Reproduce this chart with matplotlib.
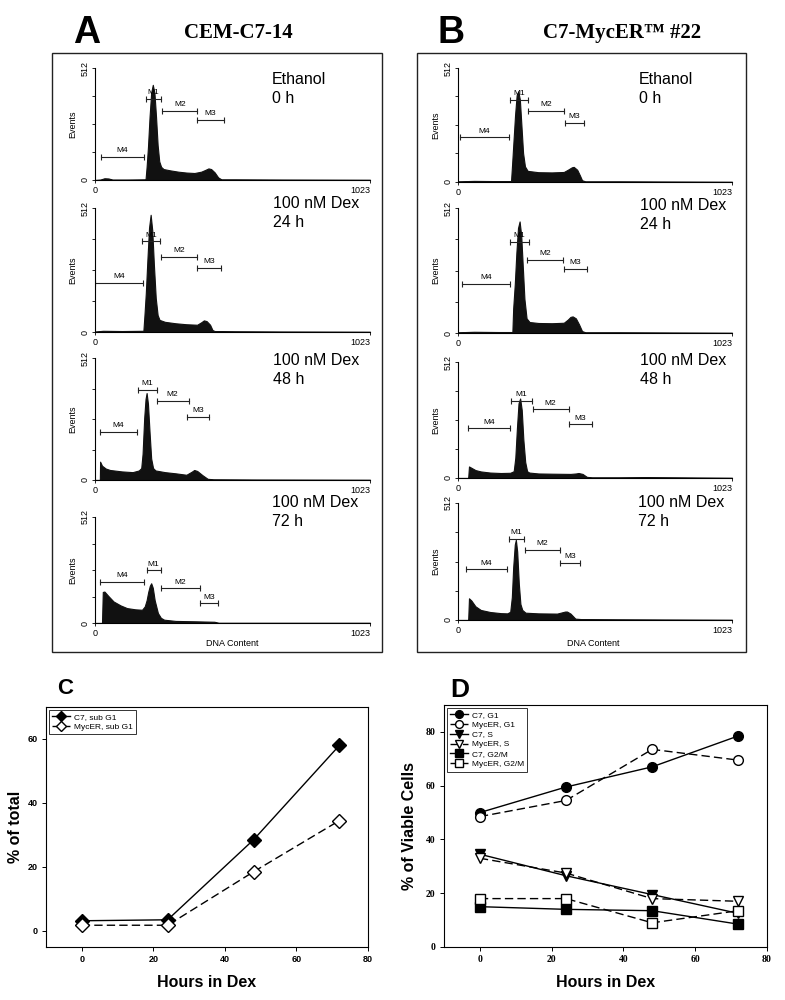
import numpy as np
import matplotlib
matplotlib.use("Agg")
import matplotlib.pyplot as plt
from matplotlib.patches import Rectangle

plt.rcParams["font.family"] = ["Liberation Sans", "DejaVu Sans"]

W, H = 785, 1000

# ---- flow histograms (channel, events) ----
ch_A0 = [0, 20, 35, 50, 65, 120, 188, 192, 197, 203, 209, 215, 221, 227, 233, 239, 246, 255, 280, 310,
         340, 370, 395, 410, 422, 432, 445, 458, 470, 520, 700, 1023]
ev_A0 = [0, 2, 8, 7, 2, 2, 3, 60, 150, 290, 400, 435, 400, 290, 160, 85, 60, 50, 44, 38,
         34, 32, 38, 46, 53, 50, 35, 12, 3, 3, 2, 1]
ch_A24 = [0, 30, 100, 180, 184, 189, 195, 201, 207, 213, 219, 226, 233, 240, 260, 300, 340, 380, 395,
          405, 415, 428, 437, 445, 520, 700, 1023]
ev_A24 = [2, 5, 4, 5, 70, 160, 300, 430, 484, 420, 280, 140, 70, 50, 42, 36, 32, 30, 40,
          48, 45, 30, 8, 4, 3, 2, 1]
ch_A48 = [0, 18, 19, 26, 40, 56, 100, 140, 163, 172, 177, 183, 188, 192, 197, 203, 209, 216, 225, 260,
          300, 340, 360, 369, 380, 400, 419, 440, 600, 1023]
ev_A48 = [0, 0, 77, 60, 48, 42, 36, 33, 40, 50, 110, 260, 340, 365, 320, 200, 90, 50, 40, 33,
          28, 22, 35, 42, 38, 20, 5, 3, 2, 1]
ch_A72 = [0, 26, 29, 35, 50, 69, 95, 119, 150, 175, 185, 192, 198, 204, 209, 215, 222, 234, 245, 257,
          300, 380, 444, 460, 1023]
ev_A72 = [0, 0, 150, 152, 130, 104, 85, 72, 66, 64, 80, 110, 150, 180, 192, 170, 110, 48, 25, 16,
          10, 8, 6, 1, 1]
ch_B0 = [0, 60, 150, 198, 202, 207, 213, 219, 225, 231, 237, 243, 250, 260, 300, 350, 395, 410, 425,
         432, 445, 455, 463, 475, 600, 1023]
ev_B0 = [3, 5, 4, 4, 80, 180, 300, 390, 407, 370, 250, 130, 70, 50, 44, 43, 45, 55, 66,
         68, 55, 30, 8, 3, 3, 1]
ch_B24 = [0, 60, 150, 203, 206, 212, 218, 224, 230, 236, 242, 248, 256, 267, 300, 350, 395, 410, 420,
          428, 440, 452, 463, 475, 600, 1023]
ev_B24 = [3, 5, 4, 4, 100, 200, 330, 430, 457, 400, 270, 140, 60, 45, 41, 40, 42, 55, 66,
          68, 60, 35, 8, 3, 3, 1]
ch_B48 = [0, 38, 41, 50, 65, 85, 120, 160, 195, 208, 214, 220, 226, 232, 238, 244, 251, 258, 266, 300,
          350, 420, 440, 450, 465, 481, 500, 600, 700, 1023]
ev_B48 = [0, 0, 51, 45, 35, 29, 24, 22, 23, 30, 90, 220, 330, 351, 300, 170, 70, 30, 24, 20,
          19, 18, 20, 22, 18, 5, 3, 3, 4, 1]
ch_B72 = [0, 38, 41, 50, 65, 85, 120, 160, 184, 195, 201, 206, 212, 216, 221, 227, 233, 240, 252, 300,
          370, 390, 400, 407, 420, 438, 460, 600, 1023]
ev_B72 = [0, 0, 95, 85, 60, 44, 35, 30, 29, 36, 100, 230, 330, 351, 300, 160, 70, 44, 32, 29,
          28, 34, 37, 37, 28, 6, 4, 3, 1]

# gate markers: (start, end, height) for M1..M4
gates_A0 = [(188, 244, 371), (250, 381, 317), (381, 479, 275), (21, 184, 107)]
gates_A24 = [(175, 241, 374), (244, 381, 309), (381, 469, 263), (0, 179, 203)]
gates_A48 = [(159, 232, 379), (229, 348, 333), (342, 423, 264), (19, 157, 203)]
gates_A72 = [(192, 244, 256), (244, 391, 168), (391, 456, 96), (19, 184, 200)]
gates_B0 = [(194, 261, 369), (262, 395, 321), (401, 469, 267), (8, 190, 200)]
gates_B24 = [(196, 264, 373), (256, 392, 300), (395, 481, 262), (16, 196, 202)]
gates_B48 = [(199, 277, 341), (279, 413, 303), (413, 500, 237), (37, 196, 219)]
gates_B72 = [(190, 246, 355), (252, 380, 307), (380, 454, 249), (29, 184, 222)]
gate_names = ["M1", "M2", "M3", "M4"]

conditions = ["Ethanol\n0 h", "100 nM Dex\n24 h", "100 nM Dex\n48 h", "100 nM Dex\n72 h"]

# ---- panel C ----
hours = [0, 24, 48, 72]
c7_subg1 = [3.2, 3.5, 28.5, 58]
myc_subg1 = [1.8, 1.8, 18.5, 34.5]

# ---- panel D ----
c7_g1 = [50, 59.5, 67, 78.5]
myc_g1 = [48.5, 54.5, 73.5, 69.5]
c7_s = [34.5, 26.5, 19.5, 12.5]
myc_s = [33, 27.5, 18, 17]
c7_g2m = [15, 14, 13.5, 8.5]
myc_g2m = [18, 18, 9, 13.5]


def fx(x):
    return x / W


def fy(y):
    return 1 - y / H


def add_ax(fig, left, top, right, bottom):
    return fig.add_axes([fx(left), fy(bottom), (right - left) / W, (bottom - top) / H])


def draw_hist(ax, ch, ev, gates):
    ax.fill_between(ch, ev, 0, color="#111111", lw=0.8)
    ax.set_xlim(0, 1023)
    ax.set_ylim(0, 512)
    for s in ["top", "right"]:
        ax.spines[s].set_visible(False)
    ax.spines["left"].set_linewidth(0.8)
    ax.spines["bottom"].set_linewidth(0.8)
    ax.set_yticks([0, 512])
    ax.set_yticks([128, 256, 384], minor=True)
    ax.set_yticklabels(["0", "512"], rotation=90, va="center", fontsize=6.5)
    ax.set_xticks([0, 1023])
    labs = ax.set_xticklabels(["0", "1023"], fontsize=6.5)
    labs[1].set_horizontalalignment("right")
    ax.tick_params(axis="both", length=2.5, width=0.6, pad=1.5)
    ax.tick_params(axis="y", which="minor", length=2, width=0.6)
    ax.set_ylabel("Events", fontsize=6.5, labelpad=2)
    for name, (x1, x2, h) in zip(gate_names, gates):
        ax.plot([x1, x2], [h, h], color="#222222", lw=0.8, marker="|", ms=4, mew=0.8)
        ax.text((x1 + x2) / 2, h + 12, name, ha="center", va="bottom", fontsize=6)


fig = plt.figure(figsize=(W / 100, H / 100), dpi=100)
fig.patch.set_facecolor("white")

# outer boxes for A and B
for (l, t, r, b) in [(52, 53, 382, 652), (417, 53, 746, 652)]:
    fig.patches.append(Rectangle((fx(l), fy(b)), (r - l) / W, (b - t) / H,
                                 transform=fig.transFigure, fill=False, lw=1.0, ec="#222222"))

fig.text(fx(73), fy(33), "A", fontsize=27, fontweight="bold", va="center")
fig.text(fx(238), fy(33), "CEM-C7-14", fontsize=15, fontweight="bold", family="Liberation Serif",
         ha="center", va="center")
fig.text(fx(438), fy(33), "B", fontsize=27, fontweight="bold", va="center")
fig.text(fx(622), fy(33), "C7-MycER\u2122 #22", fontsize=15, fontweight="bold",
         family="Liberation Serif", ha="center", va="center")

rows_A = [(68, 180), (208, 332), (358, 480), (517, 623)]
rows_B = [(68, 182), (208, 333), (362, 478), (503, 620)]
hists_A = [(ch_A0, ev_A0, gates_A0), (ch_A24, ev_A24, gates_A24),
           (ch_A48, ev_A48, gates_A48), (ch_A72, ev_A72, gates_A72)]
hists_B = [(ch_B0, ev_B0, gates_B0), (ch_B24, ev_B24, gates_B24),
           (ch_B48, ev_B48, gates_B48), (ch_B72, ev_B72, gates_B72)]
text_A = [(272, 72), (273, 196), (273, 353), (272, 495)]
text_B = [(639, 72), (640, 198), (640, 353), (638, 495)]

for (t, b), (ch, ev, g), (tx, ty), cond in zip(rows_A, hists_A, text_A, conditions):
    ax = add_ax(fig, 95, t, 370, b)
    draw_hist(ax, ch, ev, g)
    fig.text(fx(tx), fy(ty), cond, fontsize=11.5, va="top", ha="left", linespacing=1.3)
for (t, b), (ch, ev, g), (tx, ty), cond in zip(rows_B, hists_B, text_B, conditions):
    ax = add_ax(fig, 458, t, 732, b)
    draw_hist(ax, ch, ev, g)
    fig.text(fx(tx), fy(ty), cond, fontsize=11.5, va="top", ha="left", linespacing=1.3)

fig.text(fx(232), fy(643), "DNA Content", fontsize=6.5, ha="center", va="center")
fig.text(fx(593), fy(643), "DNA Content", fontsize=6.5, ha="center", va="center")

# ---- panel C ----
axc = add_ax(fig, 46, 707, 368, 947)
axc.plot(hours, c7_subg1, "-", color="black", lw=1.0, marker="D", ms=7, mfc="black", mec="black",
         label="C7, sub G1")
axc.plot(hours, myc_subg1, "--", color="black", lw=1.0, dashes=(6, 3), marker="D", ms=7, mfc="white",
         mec="black", label="MycER, sub G1")
axc.set_xlim(-10, 80)
axc.set_ylim(-5, 70)
axc.set_xticks([0, 20, 40, 60, 80])
axc.set_yticks([0, 20, 40, 60])
axc.tick_params(labelsize=6.5, length=3, width=0.7, pad=3)
for lab in axc.get_xticklabels() + axc.get_yticklabels():
    lab.set_fontweight("bold")
axc.set_xlabel("Hours in Dex", fontsize=11.5, fontweight="bold", labelpad=8)
axc.set_ylabel("% of total", fontsize=11.5, fontweight="bold", labelpad=3)
lg = axc.legend(loc="upper left", fontsize=6, frameon=True, fancybox=False, edgecolor="black",
                handlelength=2.2, borderpad=0.4, labelspacing=0.3, borderaxespad=0.3, handletextpad=0.4,
                markerscale=0.8)
lg.get_frame().set_linewidth(0.7)
fig.text(fx(57), fy(688), "C", fontsize=16, fontweight="bold", va="center")

# ---- panel D ----
axd = add_ax(fig, 444, 705, 767, 947)
styles = [
    (c7_g1, "-", "o", "black", "C7, G1"),
    (myc_g1, "--", "o", "white", "MycER, G1"),
    (c7_s, "-", "v", "black", "C7, S"),
    (myc_s, "--", "v", "white", "MycER, S"),
    (c7_g2m, "-", "s", "black", "C7, G2/M"),
    (myc_g2m, "--", "s", "white", "MycER, G2/M"),
]
for vals, ls, mk, fc, lab in styles:
    kw = dict(dashes=(6, 3)) if ls == "--" else {}
    axd.plot(hours, vals, ls, color="black", lw=1.0, marker=mk, ms=7, mfc=fc, mec="black", label=lab, **kw)
axd.set_xlim(-10, 80)
axd.set_ylim(0, 90)
axd.set_xticks([0, 20, 40, 60, 80])
axd.set_yticks([0, 20, 40, 60, 80])
axd.tick_params(labelsize=7, length=3, width=0.7, pad=3)
for lab in axd.get_xticklabels() + axd.get_yticklabels():
    lab.set_fontweight("bold")
    lab.set_family("Liberation Serif")
axd.set_xlabel("Hours in Dex", fontsize=11.5, fontweight="bold", labelpad=8)
axd.set_ylabel("% of Viable Cells", fontsize=11.5, fontweight="bold", labelpad=6)
lg = axd.legend(loc="upper left", fontsize=6, frameon=True, fancybox=False, edgecolor="black",
                handlelength=2.2, borderpad=0.4, labelspacing=0.25, borderaxespad=0.3, handletextpad=0.4,
                markerscale=0.8)
lg.get_frame().set_linewidth(0.7)
fig.text(fx(450), fy(690), "D", fontsize=19, fontweight="bold", va="center")

for a in (axc, axd):
    for s in a.spines.values():
        s.set_linewidth(0.8)

fig.savefig("out.png", dpi=100, facecolor="white")
